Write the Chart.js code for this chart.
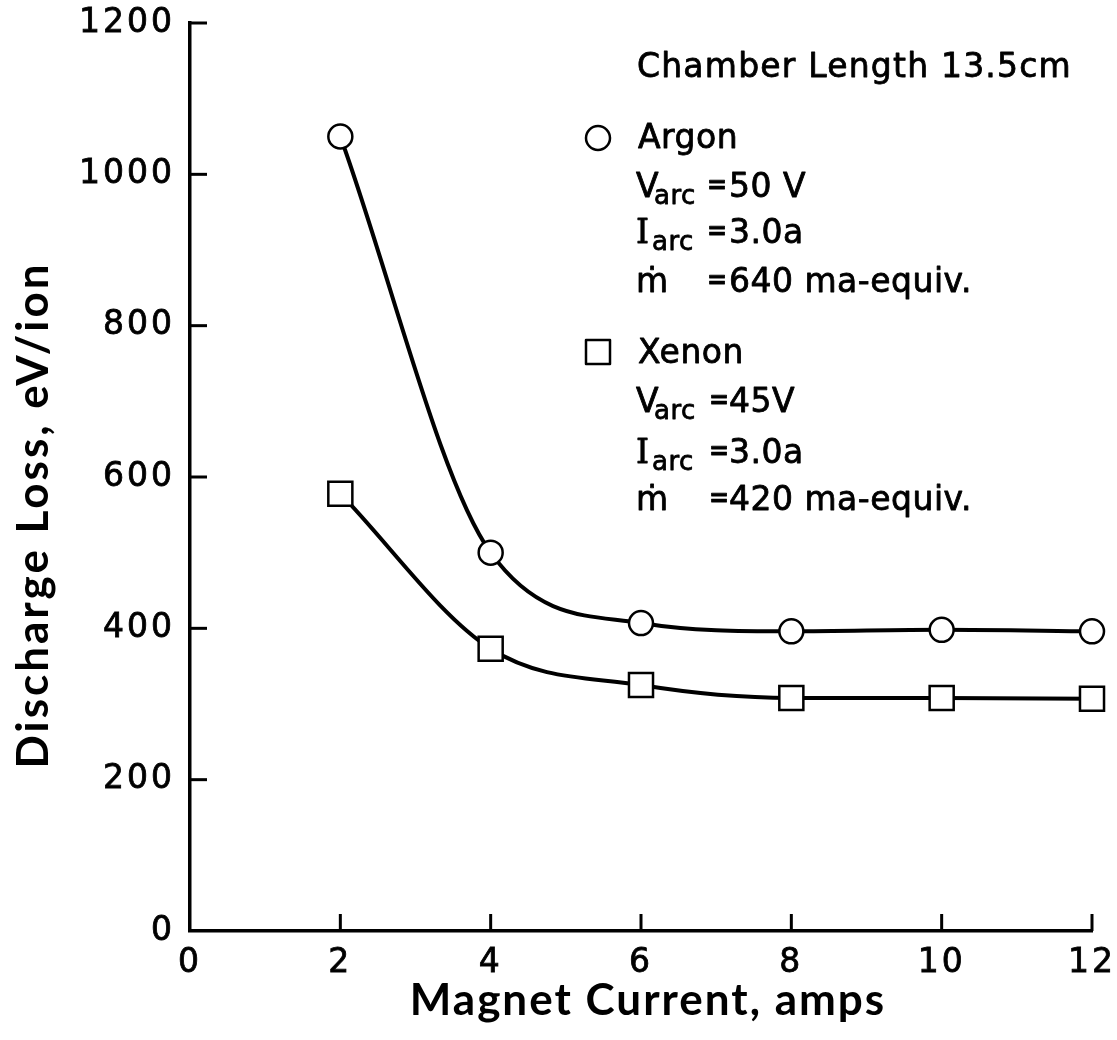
<!DOCTYPE html>
<html>
<head>
<meta charset="utf-8">
<script src="https://cdn.jsdelivr.net/npm/chart.js@4.4.1/dist/chart.umd.min.js"></script>
<style>
  html, body { margin: 0; padding: 0; background: #ffffff; }
  #wrap { width: 1117px; height: 1040px; position: relative; }
  canvas { display: block; }
</style>
</head>
<body>
<div id="wrap"><canvas id="chart" width="1117" height="1040"></canvas></div>
<script>
// ---- data ----
const magnetCurrent = [2, 4, 6, 8, 10, 12];          // amps
const argonLoss     = [1050, 500, 407, 396, 398, 396]; // eV/ion
const xenonLoss     = [578, 373, 325, 308, 308, 307];  // eV/ion
const xTickValues   = [0, 2, 4, 6, 8, 10, 12];
const yTickValues   = [0, 200, 400, 600, 800, 1000, 1200];
const xTitle = 'Magnet Current, amps';
const yTitle = 'Discharge Loss, eV/ion';
const headerText = 'Chamber Length 13.5cm';
const argonLines = { name: 'Argon', varc: '50 V', iarc: '3.0a', mdot: '640 ma-equiv.' };
const xenonLines = { name: 'Xenon', varc: '45V', iarc: '3.0a', mdot: '420 ma-equiv.' };

const TICK_FONT = '"DejaVu Sans"';
const INK = '#000000';

const toPoints = (xs, ys) => xs.map((x, i) => ({ x: x, y: ys[i] }));

// inward tick marks, axis titles and the annotation block
const decorPlugin = {
  id: 'decor',
  beforeDraw(chart) {
    chart.ctx.letterSpacing = '3px';
  },
  afterDraw(chart) {
    const ctx = chart.ctx;
    const xs = chart.scales.x, ys = chart.scales.y;
    const area = chart.chartArea;
    ctx.save();
    ctx.letterSpacing = '0px';
    ctx.strokeStyle = INK;
    ctx.fillStyle = INK;
    ctx.lineWidth = 3;
    ctx.lineCap = 'butt';
    // inward ticks
    const tl = 17;
    xTickValues.forEach(v => {
      if (v === 0) return;
      const px = xs.getPixelForValue(v);
      ctx.beginPath(); ctx.moveTo(px, area.bottom); ctx.lineTo(px, area.bottom - tl); ctx.stroke();
    });
    yTickValues.forEach(v => {
      if (v === 0) return;
      const py = ys.getPixelForValue(v);
      ctx.beginPath(); ctx.moveTo(area.left, py); ctx.lineTo(area.left + tl, py); ctx.stroke();
    });

    // axis titles
    ctx.font = 'bold 44px Lato';
    ctx.textAlign = 'center';
    ctx.textBaseline = 'alphabetic';
    ctx.letterSpacing = '2px';
    ctx.fillText(xTitle, 648, 1015);
    ctx.save();
    ctx.letterSpacing = '3px';
    ctx.translate(48, 515);
    ctx.rotate(-Math.PI / 2);
    ctx.fillText(yTitle, 0, 0);
    ctx.restore();

    // annotation block (filled and lightly stroked to match the heavier lettering)
    ctx.textAlign = 'left';
    ctx.lineWidth = 0.8;
    ctx.lineJoin = 'round';
    const put = (s, x, y) => { ctx.fillText(s, x, y); ctx.strokeText(s, x, y); };
    const main = '33px "DejaVu Sans"';
    const sub = '26px "DejaVu Sans"';
    const eq = 'bold 24px "DejaVu Sans"';
    ctx.font = main;
    ctx.letterSpacing = '1.2px';
    put(headerText, 637, 77);
    ctx.letterSpacing = '0.5px';

    const block = (info, nameY, vY, iY, mY, eqX) => {
      ctx.font = main;
      put(info.name, 638, nameY);
      // V arc
      put('V', 636, vY);
      ctx.font = sub; put('arc', 654, vY + 7);
      ctx.font = eq; put('=', eqX, vY - 4);
      ctx.font = main; put(info.varc, 729, vY);
      // I arc
      ctx.font = '33px "DejaVu Serif"'; put('I', 636, iY);
      ctx.font = sub; put('arc', 652, iY + 7);
      ctx.font = eq; put('=', eqX, iY - 4);
      ctx.font = main; put(info.iarc, 729, iY);
      // m dot
      ctx.font = main; put('\u1E41', 636, mY);
      ctx.font = eq; put('=', eqX, mY - 4);
      ctx.font = main; put(info.mdot, 729, mY);
    };
    block(argonLines, 148, 197, 243, 292, 707);
    block(xenonLines, 363, 412, 463, 510, 709);

    // legend symbols
    ctx.lineWidth = 2.5;
    ctx.fillStyle = '#ffffff';
    ctx.beginPath(); ctx.arc(598, 138, 12, 0, Math.PI * 2); ctx.fill(); ctx.stroke();
    ctx.beginPath(); ctx.rect(586, 340, 24, 24); ctx.fill(); ctx.stroke();
    ctx.restore();
  }
};

new Chart(document.getElementById('chart'), {
  type: 'line',
  data: {
    datasets: [
      {
        label: 'Argon',
        data: toPoints(magnetCurrent, argonLoss),
        borderColor: INK,
        borderWidth: 4,
        cubicInterpolationMode: 'monotone',
        pointStyle: 'circle',
        pointRadius: 12,
        pointBorderWidth: 2.5,
        pointBackgroundColor: '#ffffff',
        pointBorderColor: INK,
        clip: false
      },
      {
        label: 'Xenon',
        data: toPoints(magnetCurrent, xenonLoss),
        borderColor: INK,
        borderWidth: 4,
        cubicInterpolationMode: 'monotone',
        pointStyle: 'rect',
        pointRadius: 17,
        pointBorderWidth: 2.5,
        pointBackgroundColor: '#ffffff',
        pointBorderColor: INK,
        clip: false
      }
    ]
  },
  options: {
    responsive: false,
    animation: false,
    devicePixelRatio: 1,
    layout: { padding: { top: 23, right: 25, bottom: 0, left: 0 } },
    plugins: {
      legend: { display: false },
      tooltip: { enabled: false }
    },
    scales: {
      x: {
        type: 'linear',
        min: 0, max: 12,
        afterBuildTicks(scale) { scale.ticks = xTickValues.map(v => ({ value: v })); },
        afterFit(scale) { scale.height = 109; scale.paddingLeft = 0; scale.paddingRight = 0; },
        grid: { display: true, drawOnChartArea: false, drawTicks: false, color: 'rgba(0,0,0,0)' },
        border: { display: true, color: INK, width: 3.5 },
        ticks: { color: INK, padding: 13, font: { family: TICK_FONT, size: 33 }, maxRotation: 0,
                 textStrokeColor: INK, textStrokeWidth: 0.8, callback: v => String(v) }
      },
      y: {
        type: 'linear',
        min: 0, max: 1200,
        afterBuildTicks(scale) { scale.ticks = yTickValues.map(v => ({ value: v })); },
        afterFit(scale) { scale.width = 190; scale.paddingTop = 0; scale.paddingBottom = 0; },
        grid: { display: true, drawOnChartArea: false, drawTicks: false, color: 'rgba(0,0,0,0)' },
        border: { display: true, color: INK, width: 3.5 },
        ticks: { color: INK, padding: 15, font: { family: TICK_FONT, size: 33 },
                 textStrokeColor: INK, textStrokeWidth: 0.8, callback: v => String(v) }
      }
    }
  },
  plugins: [decorPlugin]
});
</script>
</body>
</html>
